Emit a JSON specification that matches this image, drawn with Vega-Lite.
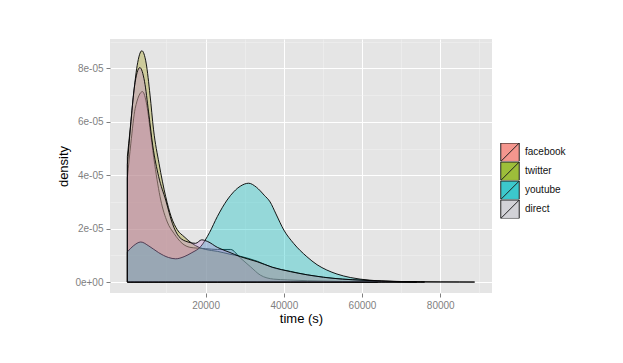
{
  "$schema": "https://vega.github.io/schema/vega-lite/v6.json",
  "width": 382,
  "height": 254,
  "autosize": {"type": "none"},
  "padding": {"left": 110, "top": 39, "right": 131, "bottom": 70},
  "background": "white",
  "config": {
    "view": {"fill": "#E5E5E5", "stroke": null},
    "font": "Liberation Sans",
    "axis": {
      "domain": false,
      "tickSize": 4,
      "tickColor": "#7F7F7F",
      "labelColor": "#7F7F7F",
      "labelFontSize": 10,
      "labelPadding": 3,
      "titleFontSize": 13,
      "titleFontWeight": "normal",
      "titleColor": "black",
      "grid": true
    }
  },
  "data": {
    "values": [
      {"source": "facebook", "time": 0, "density": 3.9e-5},
      {"source": "facebook", "time": 900, "density": 5.2e-5},
      {"source": "facebook", "time": 2000, "density": 6.5e-5},
      {"source": "facebook", "time": 3870, "density": 7.13e-5},
      {"source": "facebook", "time": 5000, "density": 6.6e-5},
      {"source": "facebook", "time": 6000, "density": 5.5e-5},
      {"source": "facebook", "time": 7000, "density": 4.4e-5},
      {"source": "facebook", "time": 8540, "density": 3.07e-5},
      {"source": "facebook", "time": 10200, "density": 2.25e-5},
      {"source": "facebook", "time": 11930, "density": 1.82e-5},
      {"source": "facebook", "time": 14000, "density": 1.45e-5},
      {"source": "facebook", "time": 16000, "density": 1.3e-5},
      {"source": "facebook", "time": 17900, "density": 1.27e-5},
      {"source": "facebook", "time": 20000, "density": 1.25e-5},
      {"source": "facebook", "time": 23000, "density": 1.22e-5},
      {"source": "facebook", "time": 26400, "density": 1.22e-5},
      {"source": "facebook", "time": 28900, "density": 0.9e-5},
      {"source": "facebook", "time": 31500, "density": 0.57e-5},
      {"source": "facebook", "time": 34000, "density": 0.26e-5},
      {"source": "facebook", "time": 37400, "density": 0.11e-5},
      {"source": "facebook", "time": 41000, "density": 0.08e-5},
      {"source": "facebook", "time": 46000, "density": 0.05e-5},
      {"source": "facebook", "time": 52000, "density": 0.03e-5},
      {"source": "facebook", "time": 58000, "density": 0.01e-5},
      {"source": "facebook", "time": 64000, "density": 0},

      {"source": "twitter", "time": 0, "density": 4.7e-5},
      {"source": "twitter", "time": 700, "density": 5.7e-5},
      {"source": "twitter", "time": 1500, "density": 6.9e-5},
      {"source": "twitter", "time": 2500, "density": 8.1e-5},
      {"source": "twitter", "time": 3700, "density": 8.66e-5},
      {"source": "twitter", "time": 4800, "density": 8.2e-5},
      {"source": "twitter", "time": 5800, "density": 7.0e-5},
      {"source": "twitter", "time": 6700, "density": 5.7e-5},
      {"source": "twitter", "time": 8100, "density": 4.44e-5},
      {"source": "twitter", "time": 9800, "density": 3.2e-5},
      {"source": "twitter", "time": 11200, "density": 2.45e-5},
      {"source": "twitter", "time": 12800, "density": 1.95e-5},
      {"source": "twitter", "time": 14500, "density": 1.7e-5},
      {"source": "twitter", "time": 16500, "density": 1.45e-5},
      {"source": "twitter", "time": 18300, "density": 1.3e-5},
      {"source": "twitter", "time": 20000, "density": 1.22e-5},
      {"source": "twitter", "time": 23000, "density": 1.15e-5},
      {"source": "twitter", "time": 26000, "density": 1.05e-5},
      {"source": "twitter", "time": 29000, "density": 0.96e-5},
      {"source": "twitter", "time": 33200, "density": 0.78e-5},
      {"source": "twitter", "time": 37000, "density": 0.55e-5},
      {"source": "twitter", "time": 41700, "density": 0.4e-5},
      {"source": "twitter", "time": 46000, "density": 0.27e-5},
      {"source": "twitter", "time": 50150, "density": 0.18e-5},
      {"source": "twitter", "time": 55000, "density": 0.11e-5},
      {"source": "twitter", "time": 60000, "density": 0.07e-5},
      {"source": "twitter", "time": 65000, "density": 0.04e-5},
      {"source": "twitter", "time": 70000, "density": 0.02e-5},
      {"source": "twitter", "time": 75000, "density": 0.012e-5},
      {"source": "twitter", "time": 80000, "density": 0.006e-5},
      {"source": "twitter", "time": 85000, "density": 0.003e-5},
      {"source": "twitter", "time": 88800, "density": 0},

      {"source": "youtube", "time": 0, "density": 1.13e-5},
      {"source": "youtube", "time": 1500, "density": 1.35e-5},
      {"source": "youtube", "time": 3440, "density": 1.5e-5},
      {"source": "youtube", "time": 5500, "density": 1.35e-5},
      {"source": "youtube", "time": 8000, "density": 1.1e-5},
      {"source": "youtube", "time": 10500, "density": 0.92e-5},
      {"source": "youtube", "time": 12360, "density": 0.87e-5},
      {"source": "youtube", "time": 14500, "density": 0.95e-5},
      {"source": "youtube", "time": 16500, "density": 1.1e-5},
      {"source": "youtube", "time": 18700, "density": 1.32e-5},
      {"source": "youtube", "time": 21000, "density": 1.85e-5},
      {"source": "youtube", "time": 23000, "density": 2.45e-5},
      {"source": "youtube", "time": 25500, "density": 3.07e-5},
      {"source": "youtube", "time": 27200, "density": 3.38e-5},
      {"source": "youtube", "time": 29000, "density": 3.6e-5},
      {"source": "youtube", "time": 31000, "density": 3.7e-5},
      {"source": "youtube", "time": 33000, "density": 3.55e-5},
      {"source": "youtube", "time": 35000, "density": 3.25e-5},
      {"source": "youtube", "time": 36500, "density": 3.0e-5},
      {"source": "youtube", "time": 38000, "density": 2.55e-5},
      {"source": "youtube", "time": 40000, "density": 1.95e-5},
      {"source": "youtube", "time": 42500, "density": 1.45e-5},
      {"source": "youtube", "time": 45900, "density": 0.95e-5},
      {"source": "youtube", "time": 48500, "density": 0.65e-5},
      {"source": "youtube", "time": 51000, "density": 0.45e-5},
      {"source": "youtube", "time": 53600, "density": 0.3e-5},
      {"source": "youtube", "time": 57000, "density": 0.17e-5},
      {"source": "youtube", "time": 62000, "density": 0.07e-5},
      {"source": "youtube", "time": 66000, "density": 0.03e-5},
      {"source": "youtube", "time": 70000, "density": 0.01e-5},
      {"source": "youtube", "time": 74000, "density": 0},

      {"source": "direct", "time": 0, "density": 4.4e-5},
      {"source": "direct", "time": 800, "density": 5.8e-5},
      {"source": "direct", "time": 1800, "density": 7.3e-5},
      {"source": "direct", "time": 3200, "density": 8.03e-5},
      {"source": "direct", "time": 4400, "density": 7.5e-5},
      {"source": "direct", "time": 5400, "density": 6.4e-5},
      {"source": "direct", "time": 6500, "density": 5.1e-5},
      {"source": "direct", "time": 8000, "density": 3.95e-5},
      {"source": "direct", "time": 9800, "density": 3.07e-5},
      {"source": "direct", "time": 11500, "density": 2.2e-5},
      {"source": "direct", "time": 13200, "density": 1.7e-5},
      {"source": "direct", "time": 15500, "density": 1.5e-5},
      {"source": "direct", "time": 17450, "density": 1.45e-5},
      {"source": "direct", "time": 19000, "density": 1.58e-5},
      {"source": "direct", "time": 20500, "density": 1.52e-5},
      {"source": "direct", "time": 23000, "density": 1.3e-5},
      {"source": "direct", "time": 26000, "density": 1.12e-5},
      {"source": "direct", "time": 28900, "density": 0.95e-5},
      {"source": "direct", "time": 33200, "density": 0.76e-5},
      {"source": "direct", "time": 37000, "density": 0.56e-5},
      {"source": "direct", "time": 41700, "density": 0.39e-5},
      {"source": "direct", "time": 46000, "density": 0.27e-5},
      {"source": "direct", "time": 50150, "density": 0.18e-5},
      {"source": "direct", "time": 55000, "density": 0.11e-5},
      {"source": "direct", "time": 60000, "density": 0.07e-5},
      {"source": "direct", "time": 65000, "density": 0.035e-5},
      {"source": "direct", "time": 70000, "density": 0.015e-5},
      {"source": "direct", "time": 76000, "density": 0}
    ]
  },
  "encoding": {
    "x": {
      "field": "time",
      "type": "quantitative",
      "title": "time (s)",
      "scale": {"domain": [-4440, 93240], "nice": false, "zero": false},
      "axis": {
        "values": [10000, 20000, 30000, 40000, 50000, 60000, 70000, 80000, 90000],
        "format": "d",
        "labelExpr": "datum.value % 20000 == 0 ? datum.label : ''",
        "tickOpacity": {"condition": {"test": "datum.value % 20000 != 0", "value": 0}, "value": 1},
        "gridColor": {"condition": {"test": "datum.value % 20000 != 0", "value": "#F2F2F2"}, "value": "white"},
        "gridWidth": {"condition": {"test": "datum.value % 20000 != 0", "value": 0.5}, "value": 1},
        "titlePadding": 2
      }
    },
    "y": {
      "field": "density",
      "type": "quantitative",
      "title": "density",
      "scale": {"domain": [-0.41e-5, 9.1e-5], "nice": false, "zero": false},
      "axis": {
        "values": [0, 1e-5, 2e-5, 3e-5, 4e-5, 5e-5, 6e-5, 7e-5, 8e-5, 9e-5],
        "labelExpr": "round(datum.value*1e5) % 2 == 1 ? '' : (datum.value == 0 ? '0e+00' : round(datum.value*1e5) + 'e-05')",
        "tickOpacity": {"condition": {"test": "round(datum.value*1e5) % 2 == 1", "value": 0}, "value": 1},
        "gridColor": {"condition": {"test": "round(datum.value*1e5) % 2 == 1", "value": "#F2F2F2"}, "value": "white"},
        "gridWidth": {"condition": {"test": "round(datum.value*1e5) % 2 == 1", "value": 0.5}, "value": 1},
        "titlePadding": 4
      }
    }
  },
  "layer": [
    {
      "transform": [{"filter": "datum.source == 'facebook'"}],
      "mark": {"type": "area", "interpolate": "monotone", "fill": "#D776C5", "fillOpacity": 0.35, "stroke": "black", "strokeWidth": 1, "strokeOpacity": 0.9}
    },
    {
      "transform": [{"filter": "datum.source == 'twitter'"}],
      "mark": {"type": "area", "interpolate": "monotone", "fill": "#A09B12", "fillOpacity": 0.35, "stroke": "black", "strokeWidth": 1, "strokeOpacity": 0.9}
    },
    {
      "transform": [{"filter": "datum.source == 'youtube'"}],
      "mark": {"type": "area", "interpolate": "monotone", "fill": "#00BFC4", "fillOpacity": 0.35, "stroke": "black", "strokeWidth": 1, "strokeOpacity": 0.9}
    },
    {
      "transform": [{"filter": "datum.source == 'direct'"}],
      "mark": {"type": "area", "interpolate": "monotone", "fill": "#C48DD3", "fillOpacity": 0.35, "stroke": "black", "strokeWidth": 1, "strokeOpacity": 0.9}
    },
    {
      "mark": {"type": "point", "filled": true, "opacity": 0},
      "encoding": {
        "color": {
          "field": "source",
          "type": "nominal",
          "scale": {
            "domain": ["facebook", "twitter", "youtube", "direct"],
            "range": ["#F5968E", "#9DBE3A", "#3CC8CC", "#D2D2D7"]
          },
          "legend": {
            "title": null,
            "orient": "none",
            "legendX": 390,
            "legendY": 104,
            "symbolType": "M-1,-1H1V1H-1Z M-1,1L1,-1",
            "symbolSize": 340,
            "symbolStrokeColor": "#222",
            "symbolStrokeWidth": 1,
            "symbolOpacity": 1,
            "clipHeight": 18.5,
            "rowPadding": 0,
            "labelFontSize": 10,
            "labelOffset": 5,
            "labelColor": "#111"
          }
        }
      }
    }
  ]
}
